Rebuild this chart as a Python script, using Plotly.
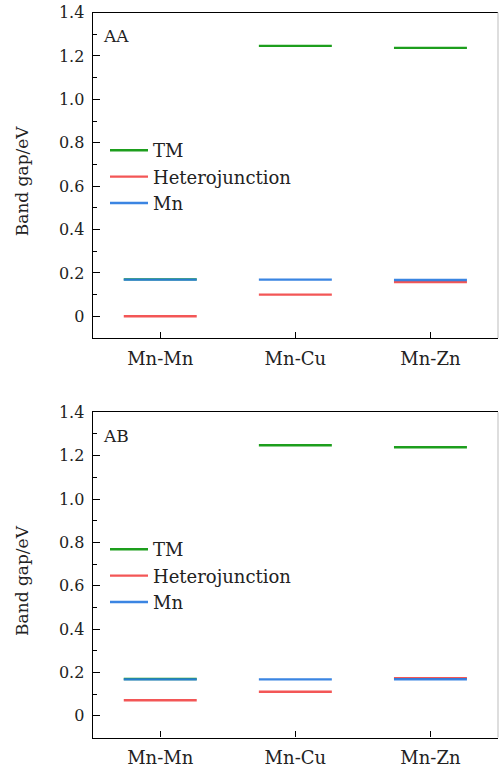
import plotly.graph_objects as go

categories = ["Mn-Mn", "Mn-Cu", "Mn-Zn"]
series_names = ["TM", "Heterojunction", "Mn"]
series_colors = ["#0a960a", "#f24848", "#2a7be0"]

aa_tm = [0.17, 1.246, 1.237]
aa_hetero = [0.0, 0.100, 0.158]
aa_mn = [0.169, 0.169, 0.167]

ab_tm = [0.17, 1.248, 1.239]
ab_hetero = [0.072, 0.111, 0.174]
ab_mn = [0.168, 0.168, 0.169]

panel_labels = ["AA", "AB"]
ytick_vals = [0, 0.2, 0.4, 0.6, 0.8, 1.0, 1.2, 1.4]
ytick_text = ["0", "0.2", "0.4", "0.6", "0.8", "1.0", "1.2", "1.4"]
y_title = "Band gap/eV"

W, H = 499, 769
FONT = "DejaVu Serif, Liberation Serif, serif"
TXT = "#222"
HALF = 0.27

def px_y(p):
    return 1 - p / H

def px_x(p):
    return p / W

panels = [
    {"data": [aa_tm, aa_hetero, aa_mn], "top": 12.5, "bottom": 338.0, "legend": "legend", "leg_top": 132},
    {"data": [ab_tm, ab_hetero, ab_mn], "top": 412.3, "bottom": 737.5, "legend": "legend2", "leg_top": 531},
]

fig = go.Figure()
x_left, x_right = 92.7, 498.0

for pi, panel in enumerate(panels):
    xa = "x" if pi == 0 else "x2"
    ya = "y" if pi == 0 else "y2"
    for si, vals in enumerate(panel["data"]):
        xs, ys = [], []
        for ci, v in enumerate(vals):
            xs += [ci - HALF, ci + HALF, None]
            ys += [v, v, None]
        fig.add_trace(go.Scatter(
            x=xs, y=ys, mode="lines", name=series_names[si],
            line=dict(color=series_colors[si], width=2.4),
            opacity=0.92,
            xaxis=xa, yaxis=ya, legend=panel["legend"],
            legendgroup=f"p{pi}s{si}",
            hoverinfo="skip",
        ))

axis_common_x = dict(
    range=[-0.5, 2.5], tickvals=[0, 1, 2], ticktext=categories,
    showline=True, linecolor="black", linewidth=1.3, mirror=True,
    ticks="inside", ticklen=6, tickwidth=1.2, tickcolor="black",
    showgrid=False, zeroline=False, automargin=False,
    tickfont=dict(family=FONT, size=18, color=TXT),
    ticklabelstandoff=4,
)
axis_common_y = dict(
    range=[-0.1, 1.4], tickvals=ytick_vals, ticktext=ytick_text,
    showline=True, linecolor="black", linewidth=1.3, mirror=False,
    ticks="inside", ticklen=7, tickwidth=1.2, tickcolor="black",
    minor=dict(ticks="inside", ticklen=4, tickwidth=1.1, tickcolor="black", dtick=0.1, tick0=0),
    showgrid=False, zeroline=False, automargin=False,
    tickfont=dict(family=FONT, size=16, color=TXT),
    ticklabelstandoff=4,
)

legend_common = dict(
    xanchor="left", yanchor="top", bgcolor="rgba(0,0,0,0)",
    font=dict(family=FONT, size=18, color=TXT),
    tracegroupgap=0, itemwidth=38,
)

xdom = [px_x(x_left), px_x(x_right)]
fig.update_layout(
    width=W, height=H,
    margin=dict(l=0, r=0, t=0, b=0),
    paper_bgcolor="white", plot_bgcolor="white",
    showlegend=True,
    xaxis=dict(domain=xdom, anchor="y", **axis_common_x),
    yaxis=dict(domain=[px_y(panels[0]["bottom"]), px_y(panels[0]["top"])], anchor="x", **axis_common_y),
    xaxis2=dict(domain=xdom, anchor="y2", **axis_common_x),
    yaxis2=dict(domain=[px_y(panels[1]["bottom"]), px_y(panels[1]["top"])], anchor="x2", **axis_common_y),
    legend=dict(x=px_x(105), y=px_y(panels[0]["leg_top"]), **legend_common),
    legend2=dict(x=px_x(105), y=px_y(panels[1]["leg_top"]), **legend_common),
)

for pi, panel in enumerate(panels):
    fig.add_annotation(
        text=panel_labels[pi], x=px_x(101), y=px_y(panel["top"] + 12),
        xref="paper", yref="paper", xanchor="left", yanchor="top",
        showarrow=False, font=dict(family=FONT, size=17, color=TXT),
    )
    fig.add_annotation(
        text=y_title, textangle=-90, x=px_x(22), y=px_y((panel["top"] + panel["bottom"]) / 2 + 6),
        xref="paper", yref="paper", xanchor="center", yanchor="middle",
        showarrow=False, font=dict(family=FONT, size=17, color=TXT),
    )
    fig.add_shape(type="line", xref="paper", yref="paper",
                  x0=px_x(x_right), x1=px_x(x_right),
                  y0=px_y(panel["bottom"]), y1=px_y(panel["top"]),
                  line=dict(color="#c8c8c8", width=1.2))

fig.write_html("out.html", config={"displayModeBar": False},
               post_script="document.body.style.margin='0';document.body.style.overflow='hidden';")
